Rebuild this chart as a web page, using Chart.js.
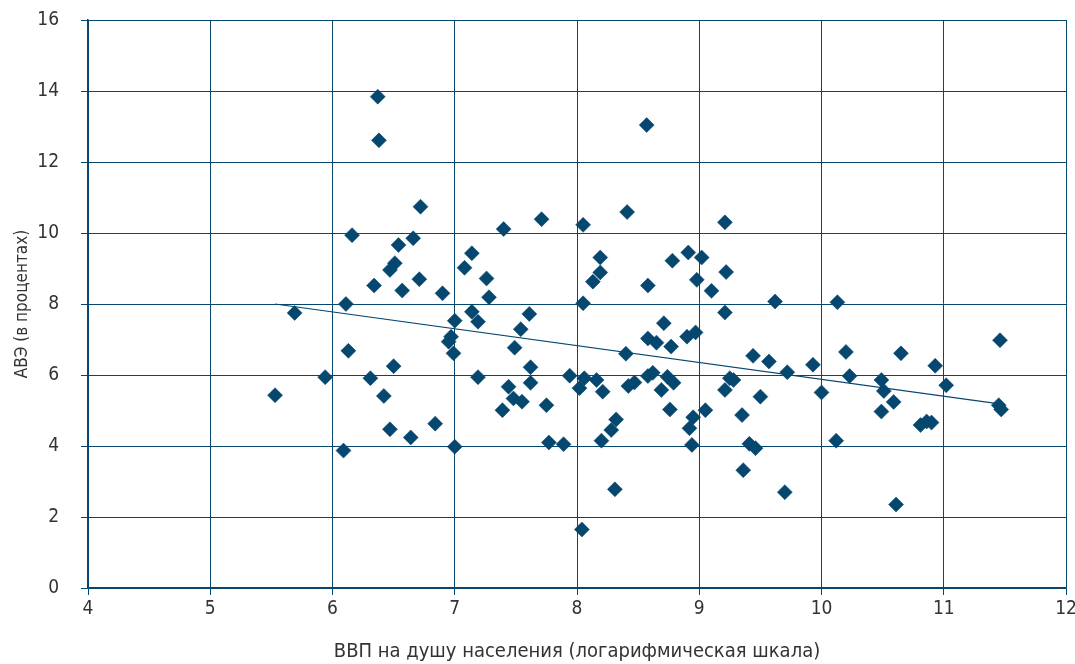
<!DOCTYPE html>
<html>
<head>
<meta charset="utf-8">
<script src="https://cdn.jsdelivr.net/npm/chart.js@4.4.1/dist/chart.umd.min.js"></script>
<style>
  html, body { margin: 0; padding: 0; background: #fff; }
  #wrap { width: 1075px; height: 664px; }
</style>
</head>
<body>
<div id="wrap"><canvas id="myChart"></canvas></div>
<script>
// Data
const gdpLog = [5.53, 5.69, 5.94, 6.09, 6.11, 6.13, 6.16, 6.31, 6.34, 6.37, 6.38, 6.42, 6.47, 6.47, 6.50, 6.51,
    6.54, 6.57, 6.64, 6.66, 6.71, 6.72, 6.84, 6.90, 6.95, 6.97, 6.99, 7.00, 7.00, 7.08, 7.14, 7.14,
    7.19, 7.19, 7.26, 7.28, 7.39, 7.40, 7.44, 7.48, 7.49, 7.54, 7.55, 7.61, 7.62, 7.62, 7.71, 7.75,
    7.77, 7.89, 7.94, 8.02, 8.04, 8.05, 8.05, 8.06, 8.13, 8.16, 8.19, 8.19, 8.20, 8.21, 8.28, 8.31,
    8.32, 8.40, 8.41, 8.42, 8.47, 8.57, 8.58, 8.58, 8.58, 8.62, 8.65, 8.69, 8.71, 8.74, 8.76, 8.77,
    8.78, 8.79, 8.90, 8.91, 8.92, 8.94, 8.95, 8.97, 8.98, 9.02, 9.05, 9.10, 9.21, 9.21, 9.21, 9.22,
    9.25, 9.28, 9.35, 9.36, 9.41, 9.44, 9.46, 9.50, 9.57, 9.62, 9.70, 9.72, 9.93, 10.00, 10.12, 10.13,
    10.20, 10.23, 10.49, 10.49, 10.51, 10.59, 10.61, 10.65, 10.81, 10.86, 10.90, 10.93, 11.02, 11.45, 11.46, 11.47];
const avz = [5.43, 7.75, 5.94, 3.87, 8.00, 6.68, 9.94, 5.91, 8.52, 13.84, 12.61, 5.41, 4.47, 8.96, 6.25, 9.15,
    9.66, 8.38, 4.24, 9.85, 8.70, 10.74, 4.63, 8.30, 6.94, 7.08, 6.61, 7.53, 3.98, 9.02, 9.43, 7.78,
    7.50, 5.94, 8.72, 8.19, 5.01, 10.11, 5.67, 5.34, 6.77, 7.29, 5.25, 7.72, 6.22, 5.78, 10.39, 5.15,
    4.10, 4.05, 5.98, 5.63, 1.65, 8.02, 10.23, 5.91, 8.63, 5.86, 8.89, 9.31, 4.15, 5.53, 4.45, 2.78,
    4.75, 6.60, 10.59, 5.69, 5.79, 13.04, 7.03, 8.52, 5.97, 6.06, 6.91, 5.58, 7.46, 5.95, 5.03, 6.80,
    9.22, 5.78, 7.08, 9.45, 4.50, 4.03, 4.81, 7.20, 8.68, 9.31, 5.01, 8.37, 10.30, 7.76, 5.58, 8.90,
    5.91, 5.86, 4.87, 3.32, 4.06, 6.54, 3.94, 5.39, 6.38, 8.07, 2.70, 6.08, 6.29, 5.51, 4.15, 8.05,
    6.65, 5.97, 5.86, 4.97, 5.55, 5.24, 2.35, 6.61, 4.59, 4.69, 4.66, 6.26, 5.71, 5.15, 6.98, 5.03];
// trend line end points
const trendX = [5.53, 11.47];
const trendY = [8.00, 5.18];

const blue = '#06476f';
const textColor = '#333';
const fontFamily = "'Liberation Sans Narrow', 'DejaVu Sans Condensed', 'Noto Sans', sans-serif";

const points = gdpLog.map((x, i) => ({ x: x, y: avz[i] }));
const trend = trendX.map((x, i) => ({ x: x, y: trendY[i] }));

const myChart = new Chart(document.getElementById('myChart'), {
    type: 'scatter',
    data: {
        datasets: [{
            label: 'АВЭ',
            data: points,
            pointStyle: 'rectRot',
            pointRadius: 7.5,
            pointHoverRadius: 7.5,
            backgroundColor: blue,
            borderColor: blue,
            borderWidth: 0.5
        }, {
            label: 'Тренд',
            type: 'line',
            data: trend,
            borderColor: blue,
            borderWidth: 1.2,
            pointRadius: 0,
            fill: false
        }]
    },
    options: {
        responsive: true,
        maintainAspectRatio: false,
        animation: false,
        layout: { padding: { left: 0, right: 0, top: 20, bottom: 0 } },
        plugins: {
            legend: { display: false },
            tooltip: { enabled: false }
        },
        scales: {
            x: {
                type: 'linear',
                min: 4,
                max: 12,
                ticks: { stepSize: 1, color: textColor, padding: 3, font: { family: fontFamily, size: 19 } },
                grid: { color: blue, lineWidth: 1, tickLength: 7 },
                border: { color: blue, width: 1.5 },
                title: {
                    display: true,
                    text: 'ВВП на душу населения (логарифмическая шкала)',
                    color: textColor,
                    font: { family: fontFamily, size: 20 },
                    padding: { top: 0, bottom: 0 }
                },
                afterFit: function (scale) {
                    scale.height = 76;
                    scale.paddingLeft = 0;
                    scale.paddingRight = 9;
                }
            },
            y: {
                min: 0,
                max: 16,
                ticks: { stepSize: 2, color: textColor, padding: 22, font: { family: fontFamily, size: 19 } },
                grid: { color: blue, lineWidth: 1, tickLength: 7 },
                border: { color: blue, width: 1.5 },
                title: {
                    display: true,
                    text: 'АВЭ (в процентах)',
                    color: textColor,
                    font: { family: fontFamily, size: 17 },
                    padding: { top: 12, bottom: 0 }
                },
                afterFit: function (scale) {
                    scale.width = 88;
                    scale.paddingTop = 0;
                    scale.paddingBottom = 0;
                }
            }
        }
    }
});
</script>
</body>
</html>
